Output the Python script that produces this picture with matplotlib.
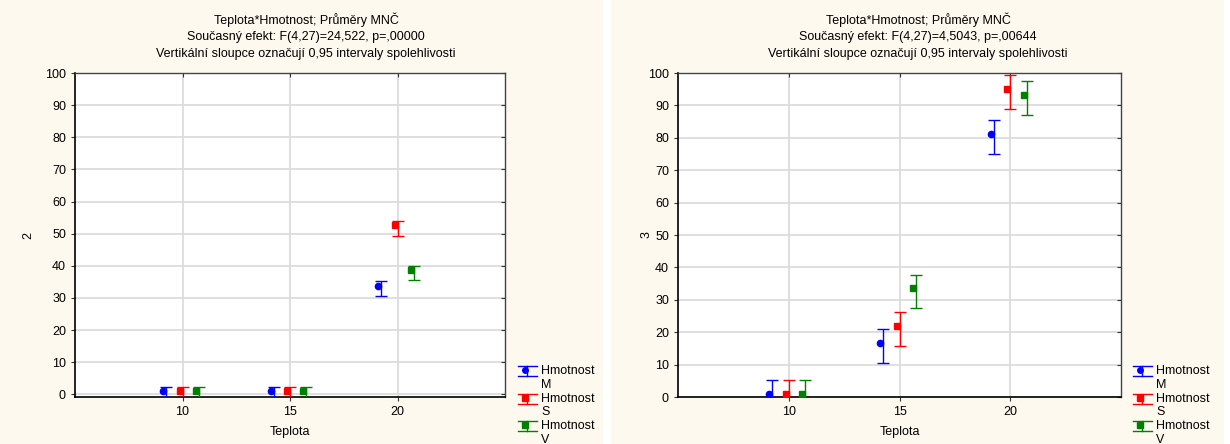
import matplotlib
matplotlib.use("Agg")
import matplotlib.pyplot as plt
from matplotlib.patches import Rectangle
from matplotlib.transforms import offset_copy
from matplotlib.legend_handler import HandlerBase
from matplotlib.lines import Line2D
import numpy as np

plt.rcParams['font.family'] = ['Liberation Sans', 'DejaVu Sans']

# ---- data ----
teplota = [10, 15, 20]
groups = ['M', 'S', 'V']
legend_labels = ['Hmotnost\nM', 'Hmotnost\nS', 'Hmotnost\nV']

# panel 1 (variable "2")
p1_M = [0.0, 0.0, 32.95]
p1_S = [0.0, 0.0, 51.7]
p1_V = [0.0, 0.0, 37.75]
p1_ci = 2.3

# panel 2 (variable "3")
p2_M = [0.0, 15.7, 80.25]
p2_S = [0.0, 21.0, 94.05]
p2_V = [0.0, 32.6, 92.3]
p2_ci = 5.2

titles1 = ["Teplota*Hmotnost; Průměry MNČ",
           "Současný efekt: F(4,27)=24,522, p=,00000",
           "Vertikální sloupce označují 0,95 intervaly spolehlivosti"]
titles2 = ["Teplota*Hmotnost; Průměry MNČ",
           "Současný efekt: F(4,27)=4,5043, p=,00644",
           "Vertikální sloupce označují 0,95 intervaly spolehlivosti"]

colors = ['#0000ff', '#ff0000', '#008000']
markers = ['o', 's', 's']
offsets = [-0.75, 0.0, 0.75]


class ErrorbarHandle(HandlerBase):
    """Legend glyph: I-shaped error bar with wide caps and a marker."""
    def create_artists(self, legend, orig_handle, xdescent, ydescent,
                       width, height, fontsize, trans):
        c = orig_handle.get_color()
        m = orig_handle.get_marker()
        x0 = -xdescent
        x1 = -xdescent + width
        cx = (x0 + x1) / 2
        cy = -ydescent + height / 2 + 5.0
        h = 3.6
        arts = [
            Line2D([x0, x1], [cy + h, cy + h], color=c, lw=1.0),
            Line2D([x0, x1], [cy - h, cy - h], color=c, lw=1.0),
            Line2D([cx, cx], [cy - h, cy + h], color=c, lw=1.0),
            Line2D([cx - 2.0], [cy + 0.7], marker=m, color=c, markersize=4,
                   linestyle='none'),
        ]
        for a in arts:
            a.set_transform(trans)
        return arts


W, H = 1230, 444
fig = plt.figure(figsize=(W / 100, H / 100), dpi=100)
fig.patch.set_facecolor('white')
cream = '#fdf9ee'
fig.patches.append(Rectangle((0, 0), 603 / W, 1, transform=fig.transFigure,
                             facecolor=cream, edgecolor='none', zorder=-10))
fig.patches.append(Rectangle((611 / W, 0), (1224 - 611) / W, 1, transform=fig.transFigure,
                             facecolor=cream, edgecolor='none', zorder=-10))


def panel(rect, series, ci, ylim, ylabel, ylabel_x, titles, title_x, legend_x):
    ax = fig.add_axes(rect)
    ax.set_facecolor('white')
    ax.set_xlim(5, 25)
    ax.set_ylim(*ylim)
    ax.set_xticks([10, 15, 20])
    ax.set_yticks(np.arange(0, 101, 10))
    ax.grid(True, color='#dcdcdc', linewidth=1.3, zorder=0)
    ax.set_axisbelow(True)
    ax.tick_params(axis='both', labelsize=9, length=3, width=0.8, color='#333333')
    ax.tick_params(axis='x', top=True, direction='out')
    ax.tick_params(axis='y', right=True, direction='out')
    for t in ax.xaxis.get_major_ticks():
        t.tick2line.set_marker(3)
    for t in ax.yaxis.get_major_ticks():
        t.tick2line.set_marker(0)
    for side in ['left', 'bottom']:
        ax.spines[side].set_color('black')
        ax.spines[side].set_linewidth(1.2)
    for side in ['top', 'right']:
        ax.spines[side].set_color('#444444')
        ax.spines[side].set_linewidth(1.0)
    ax.set_xlabel('Teplota', fontsize=9, labelpad=6)
    ax.set_ylabel(ylabel, fontsize=9)
    ax.yaxis.set_label_coords(ylabel_x, 0.5)
    mtrans = offset_copy(ax.transData, fig=fig, x=-3, y=3, units='dots')
    handles = []
    hmap = {}
    for vals, c, m, off in zip(series, colors, markers, offsets):
        xs = [t + off for t in teplota]
        ax.errorbar(xs, vals, yerr=ci, fmt='none', ecolor=c, elinewidth=1.0,
                    capsize=4, capthick=1.0, zorder=3)
        ax.plot(xs, vals, linestyle='none', marker=m, color=c, markersize=4.5,
                transform=mtrans, zorder=4)
        proxy = Line2D([], [], color=c, marker=m)
        handles.append(proxy)
        hmap[proxy] = ErrorbarHandle()
    for i, t in enumerate(titles):
        fig.text(title_x, 1 - (20 + 16.8 * i) / H, t, ha='center', va='center', fontsize=9)
    fig.legend(handles, legend_labels, loc='upper left',
               bbox_to_anchor=(legend_x / W, 1 - 365 / H), frameon=False,
               fontsize=9, handlelength=1.5, handletextpad=0.35, labelspacing=0.15,
               borderpad=0, borderaxespad=0, handler_map=hmap)
    return ax


bot = (H - 397) / H
hgt = (397 - 73) / H
panel([75 / W, bot, 430 / W, hgt], [p1_M, p1_S, p1_V], p1_ci, (-0.8, 100), '2',
      (34 - 75) / 430, titles1, 306 / W, 518)
panel([678 / W, bot, 443 / W, hgt], [p2_M, p2_S, p2_V], p2_ci, (0, 100), '3',
      (653 - 678) / 443, titles2, 918 / W, 1133)

fig.savefig('out.png', dpi=100, facecolor=fig.get_facecolor())
